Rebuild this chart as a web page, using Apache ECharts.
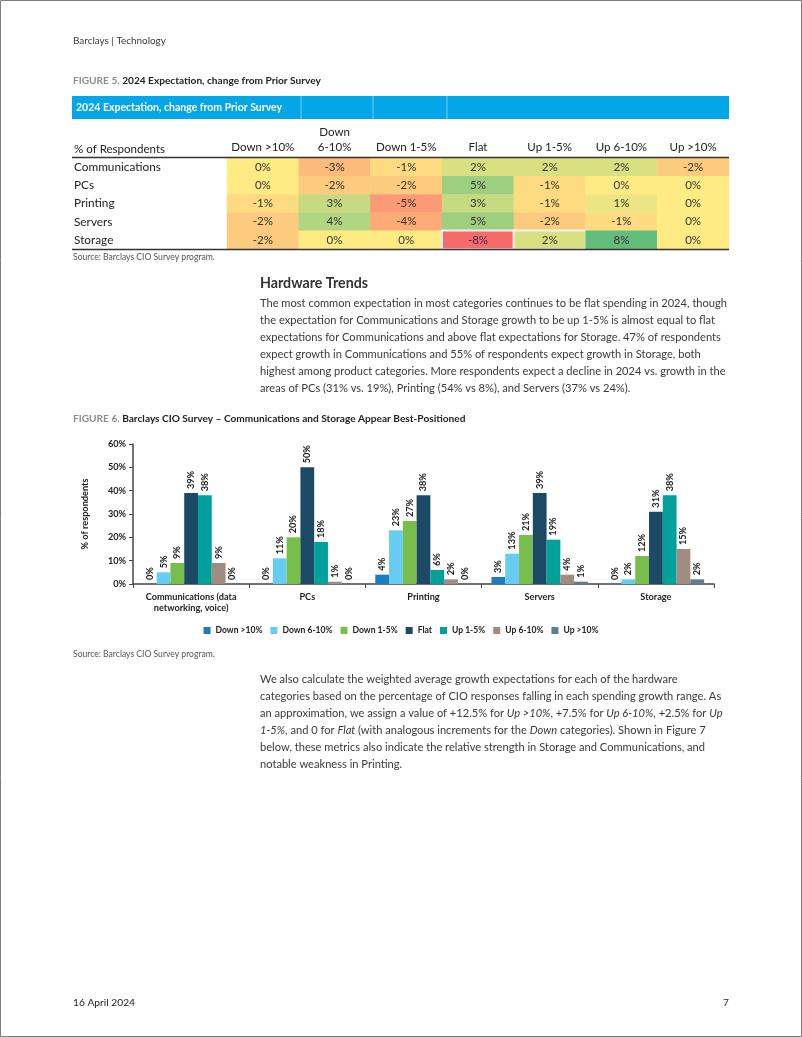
<!DOCTYPE html>
<html><head><meta charset="utf-8">
<script src="https://cdn.jsdelivr.net/npm/echarts@6/dist/echarts.min.js"></script>
<style>html,body{margin:0;padding:0;background:#fff}#c{width:802px;height:1037px}</style>
</head><body><div id="c"></div>
<script>
// ---------- Figure 5 table data ----------
const tableColumns = ['Down >10%', 'Down\n6-10%', 'Down 1-5%', 'Flat', 'Up 1-5%', 'Up 6-10%', 'Up >10%'];
const tableRows = ['Communications', 'PCs', 'Printing', 'Servers', 'Storage'];
const changeCommunications = [0, -3, -1, 2, 2, 2, -2];
const changePCs = [0, -2, -2, 5, -1, 0, 0];
const changePrinting = [-1, 3, -5, 3, -1, 1, 0];
const changeServers = [-2, 4, -4, 5, -2, -1, 0];
const changeStorage = [-2, 0, 0, -8, 2, 8, 0];
const highlightedCells = [[3, 4], [4, 4]]; // [column, row]

// ---------- Figure 6 chart data ----------
const chartCategories = ['Communications (data\nnetworking, voice)', 'PCs', 'Printing', 'Servers', 'Storage'];
const seriesNames = ['Down >10%', 'Down 6-10%', 'Down 1-5%', 'Flat', 'Up 1-5%', 'Up 6-10%', 'Up >10%'];
const downOver10 = [0, 0, 4, 3, 0];
const down6to10 = [5, 11, 23, 13, 2];
const down1to5 = [9, 20, 27, 21, 12];
const flatSpend = [39, 50, 38, 39, 31];
const up1to5 = [38, 18, 6, 19, 38];
const up6to10 = [9, 1, 2, 4, 15];
const upOver10 = [0, 0, 0, 1, 2];
const yTickMin = 0, yTickMax = 60, yTickStep = 10;

// ---------- page text ----------
const para1 = [
  'The most common expectation in most categories continues to be flat spending in 2024, though',
  'the expectation for Communications and Storage growth to be up 1-5% is almost equal to flat',
  'expectations for Communications and above flat expectations for Storage. 47% of respondents',
  'expect growth in Communications and 55% of respondents expect growth in Storage, both',
  'highest among product categories. More respondents expect a decline in 2024 vs. growth in the',
  'areas of PCs (31% vs. 19%), Printing (54% vs 8%), and Servers (37% vs 24%).'
];
const para2 = [
  [['n', 'We also calculate the weighted average growth expectations for each of the hardware']],
  [['n', 'categories based on the percentage of CIO responses falling in each spending growth range. As']],
  [['n', 'an approximation, we assign a value of +12.5% for '], ['i', 'Up >10%'], ['n', ', +7.5% for '], ['i', 'Up 6-10%'], ['n', ', +2.5% for '], ['i', 'Up']],
  [['i', '1-5%'], ['n', ', and 0 for '], ['i', 'Flat'], ['n', ' (with analogous increments for the '], ['i', 'Down'], ['n', ' categories). Shown in Figure 7']],
  [['n', 'below, these metrics also indicate the relative strength in Storage and Communications, and']],
  [['n', 'notable weakness in Printing.']]
];

const FF = 'Lato';
const cv = document.createElement('canvas').getContext('2d');
function fit(text, weight, target) {
  cv.font = weight + ' 40px ' + FF;
  return +(40 * target / cv.measureText(text).width).toFixed(2);
}
const bodySize = fit(para1[0], 'normal', 467);
const headSize = fit('Hardware Trends', 'bold', 108);
const capSize = fit('FIGURE 5. 2024 Expectation, change from Prior Survey', 'bold', 248);
const srcSize = fit('Source: Barclays CIO Survey program.', 'normal', 142);
const topSize = fit('Barclays | Technology', 'normal', 93);
const footSize = fit('16 April 2024', 'normal', 62);
const rowSize = fit('Communications', 'normal', 87);
const colSize = fit('Down >10%', 'normal', 63);
const bannerSize = fit('2024 Expectation, change from Prior Survey', 'bold', 206);
const chartSize = fit('Communications (data', 'bold', 91);
const legendSize = fit('Down >10%', 'bold', 47);

const TXT = '#3a3a3a';
const DARK = '#222';

const chart = echarts.init(document.getElementById('c'), null, { renderer: 'canvas', width: 802, height: 1037 });

const tableValues = [changeCommunications, changePCs, changePrinting, changeServers, changeStorage];
const heatData = [];
tableValues.forEach((row, r) => row.forEach((v, c) => {
  const hl = highlightedCells.some(h => h[0] === c && h[1] === r);
  const item = { value: [c, r, v] };
  if (hl) item.itemStyle = { borderColor: '#f2f2f2', borderWidth: 2 };
  heatData.push(item);
}));

const barValues = [downOver10, down6to10, down1to5, flatSpend, up1to5, up6to10, upOver10];
const barColors = ['#1B7DBE', '#66CCF2', '#78BE4A', '#1C4966', '#00A19B', '#A08C80', '#5F7D8E'];
const chartFont = { fontFamily: FF, fontWeight: 'bold', fontSize: chartSize, color: DARK };

const barSeries = seriesNames.map((name, i) => ({
  type: 'bar', name: name, data: barValues[i], xAxisIndex: 1, yAxisIndex: 1,
  barGap: '0%', barCategoryGap: '17%',
  itemStyle: { color: barColors[i] },
  label: Object.assign({ show: true, position: 'top', rotate: 90, align: 'left', verticalAlign: 'middle',
    distance: 4, formatter: '{c}%' }, chartFont),
  emphasis: { disabled: true }
}));

function txt(x, y, text, size, opts) {
  return {
    type: 'text', x: x, y: y, z: 100, silent: true,
    style: Object.assign({ text: text, fontFamily: FF, fontSize: size, fill: TXT, align: 'left', verticalAlign: 'middle' }, opts || {})
  };
}
function line(x1, y1, x2, y2, color, w) {
  return { type: 'line', z: 100, silent: true, shape: { x1: x1, y1: y1, x2: x2, y2: y2 }, style: { stroke: color, lineWidth: w } };
}
function caption(y, fig, title) {
  return txt(73, y, '{g|' + fig + ' }{b|' + title + '}', capSize, {
    rich: {
      g: { fontFamily: FF, fontSize: capSize, fontWeight: 'bold', fill: '#8c8c8c' },
      b: { fontFamily: FF, fontSize: capSize, fontWeight: 'bold', fill: DARK }
    }
  });
}

const graphics = [
  { type: 'rect', z: 0, silent: true, shape: { x: 0.5, y: 0.5, width: 801, height: 1036 }, style: { fill: 'none', stroke: '#7d7d7d', lineWidth: 1 } },
  txt(73, 41, 'Barclays | Technology', topSize),
  caption(81, 'FIGURE 5.', '2024 Expectation, change from Prior Survey'),
  { type: 'rect', z: 90, silent: true, shape: { x: 72, y: 96, width: 657, height: 23 }, style: { fill: '#03A6E7' } },
  line(301, 96, 301, 119, 'rgba(255,255,255,0.45)', 1),
  line(373, 96, 373, 119, 'rgba(255,255,255,0.45)', 1),
  line(447, 96, 447, 119, 'rgba(255,255,255,0.45)', 1),
  txt(76, 108, '2024 Expectation, change from Prior Survey', bannerSize, { fill: '#fff', fontWeight: 'bold' }),
  txt(74, 149, '% of Respondents', colSize, { fill: DARK }),
  line(72, 157.5, 729, 157.5, '#333', 1.5),
  line(72, 249.5, 729, 249.5, '#333', 1.5),
  txt(73, 257, 'Source: Barclays CIO Survey program.', srcSize, { fill: '#555' }),
  txt(260, 283, 'Hardware Trends', headSize, { fontWeight: 'bold', fill: '#333' }),
  caption(419, 'FIGURE 6.', 'Barclays CIO Survey \u2013 Communications and Storage Appear Best-Positioned'),
  txt(73, 654, 'Source: Barclays CIO Survey program.', srcSize, { fill: '#555' }),
  txt(73, 1003, '16 April 2024', footSize, { fill: DARK }),
  txt(729, 1003, '7', footSize, { fill: DARK, align: 'right' })
];
para1.forEach((l, i) => graphics.push(txt(260, 303 + i * 17, l, bodySize)));
para2.forEach((segs, i) => {
  const s = segs.map(p => '{' + p[0] + '|' + p[1] + '}').join('');
  graphics.push(txt(260, 679 + i * 17, s, bodySize, {
    rich: {
      n: { fontFamily: FF, fontSize: bodySize, fill: TXT },
      i: { fontFamily: FF, fontSize: bodySize, fill: TXT, fontStyle: 'italic' }
    }
  }));
});

const option = {
  animation: false,
  backgroundColor: '#fff',
  textStyle: { fontFamily: FF },
  grid: [
    { left: 227, top: 158, width: 502, height: 91 },
    { left: 133, top: 444, width: 581, height: 140 }
  ],
  xAxis: [
    { gridIndex: 0, type: 'category', data: tableColumns, position: 'top',
      axisLine: { show: false }, axisTick: { show: false }, splitLine: { show: false },
      axisLabel: { interval: 0, margin: 3, fontFamily: FF, fontSize: colSize, color: DARK, lineHeight: 15 } },
    { gridIndex: 1, type: 'category', data: chartCategories,
      axisLine: { lineStyle: { color: '#444', width: 1.5 } },
      axisTick: { show: true, length: 4, lineStyle: { color: '#444' } },
      axisLabel: Object.assign({ interval: 0, margin: 8, lineHeight: 11 }, chartFont) }
  ],
  yAxis: [
    { gridIndex: 0, type: 'category', data: tableRows, inverse: true,
      axisLine: { show: false }, axisTick: { show: false }, splitLine: { show: false },
      axisLabel: { align: 'left', margin: 153, fontFamily: FF, fontSize: rowSize, color: DARK } },
    { gridIndex: 1, type: 'value', min: yTickMin, max: yTickMax, interval: yTickStep,
      name: '% of respondents', nameLocation: 'middle', nameRotate: 90, nameGap: 43,
      nameTextStyle: chartFont,
      axisLine: { show: true, lineStyle: { color: '#444', width: 1.5 } },
      axisTick: { show: true, length: 4, lineStyle: { color: '#444' } },
      splitLine: { show: false },
      axisLabel: Object.assign({ formatter: '{value}%', margin: 7 }, chartFont) }
  ],
  visualMap: {
    show: false, type: 'continuous', seriesIndex: 0, dimension: 2, min: -8, max: 8,
    inRange: { color: ['#F8696B', '#FFEB84', '#63BE7B'] }
  },
  legend: {
    data: seriesNames, top: 621, left: 'center', icon: 'rect', itemWidth: 7, itemHeight: 7,
    itemGap: 8, selectedMode: false,
    textStyle: { fontFamily: FF, fontWeight: 'bold', fontSize: legendSize, color: DARK }
  },
  series: [
    { type: 'heatmap', data: heatData, xAxisIndex: 0, yAxisIndex: 0,
      label: { show: true, formatter: p => p.value[2] + '%', fontFamily: FF, fontSize: colSize, color: '#333' },
      emphasis: { disabled: true } }
  ].concat(barSeries),
  graphic: graphics
};
chart.setOption(option);
</script>
</body></html>
